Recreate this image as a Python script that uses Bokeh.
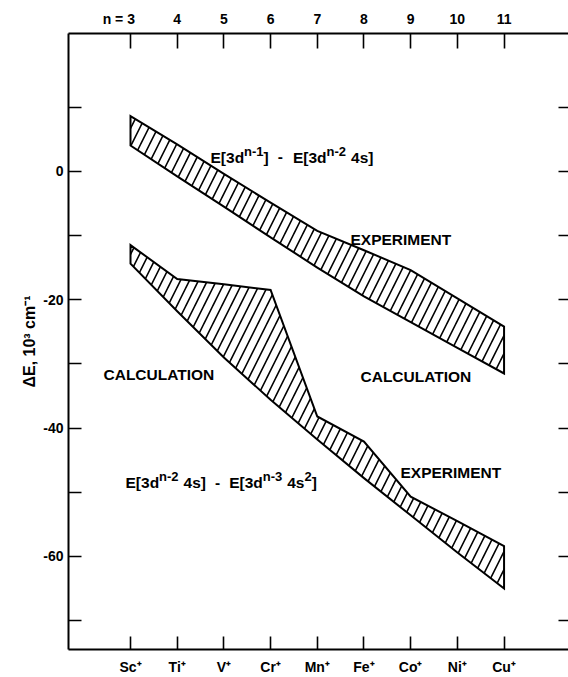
import math
from bokeh.plotting import figure
from bokeh.models import Range1d, LinearAxis, FixedTicker, Label
from bokeh.embed import file_html
from bokeh.resources import INLINE

# ---------------- data ----------------
ions = ["Sc", "Ti", "V", "Cr", "Mn", "Fe", "Co", "Ni", "Cu"]
n_values = [3, 4, 5, 6, 7, 8, 9, 10, 11]

# E[3d^(n-1)] - E[3d^(n-2) 4s]   (10^3 cm^-1)
upper_experiment = [8.6, 4.2, -0.4, -4.9, -9.3, -12.3, -15.4, -19.8, -24.2]
upper_calculation = [4.0, -0.8, -5.5, -10.3, -15.0, -19.5, -23.5, -27.5, -31.5]

# E[3d^(n-2) 4s] - E[3d^(n-3) 4s^2]
lower_experiment = [-11.5, -16.8, -17.6, -18.5, -38.2, -42.1, -50.7, -54.5, -58.4]
lower_calculation = [-14.4, -21.8, -29.0, -35.6, -41.8, -47.8, -53.6, -59.4, -65.0]

y_ticks = [-70, -60, -50, -40, -30, -20, -10, 0, 10]
y_labelled = [-60, -40, -20, 0]

# ---------------- layout ----------------
X0, X1 = 1.672, 12.38
Y0, Y1 = -74.5, 21.46
W, H = 568, 677
ML, MR, MT, MB = 68, 0, 33, 27
PX_X = (W - ML - MR) / (X1 - X0)   # px per data unit (x)
PX_Y = (H - MT - MB) / (Y1 - Y0)   # px per data unit (y)

FONT = "Liberation Sans"

p = figure(width=W, height=H, x_range=Range1d(X0, X1), y_range=Range1d(Y0, Y1),
           output_backend="svg", toolbar_location=None,
           x_axis_location=None, y_axis_location=None,
           min_border_left=ML, min_border_right=MR, min_border_top=MT, min_border_bottom=MB)
p.outline_line_color = None
p.grid.grid_line_color = None
p.background_fill_color = "white"
p.border_fill_color = "white"


def style_axis(ax, tick_in=13, standoff=5, size="14px"):
    ax.axis_line_color = "black"
    ax.axis_line_width = 2
    ax.major_tick_line_color = "black"
    ax.major_tick_line_width = 1.6
    ax.major_tick_in = tick_in
    ax.major_tick_out = 0
    ax.minor_tick_line_color = None
    ax.major_label_text_font = FONT
    ax.major_label_text_font_style = "bold"
    ax.major_label_text_font_size = size
    ax.major_label_text_color = "black"
    ax.major_label_standoff = standoff


xb = LinearAxis(ticker=FixedTicker(ticks=n_values),
                major_label_overrides={n: f"{ion}\u207a" for n, ion in zip(n_values, ions)})
style_axis(xb, tick_in=13, standoff=9)
p.add_layout(xb, "below")

top_labels = {n: str(n) for n in n_values}
top_labels[n_values[0]] = f"n = {n_values[0]}" + "\u2007" * 3
xt = LinearAxis(ticker=FixedTicker(ticks=n_values), major_label_overrides=top_labels)
style_axis(xt, tick_in=15, standoff=7)
p.add_layout(xt, "above")

yl = LinearAxis(ticker=FixedTicker(ticks=y_ticks),
                major_label_overrides={t: (str(t) if t in y_labelled else "") for t in y_ticks})
style_axis(yl, tick_in=13, standoff=5)
p.add_layout(yl, "left")

# axis carrying only the y title, bounded so that the title sits where the original one does
ytitle = LinearAxis(ticker=FixedTicker(ticks=[]), bounds=(-40, 0),
                    axis_label="\u0394E, 10\u00b3 cm\u207b\u00b9")
ytitle.axis_line_color = None
ytitle.major_tick_line_color = None
ytitle.minor_tick_line_color = None
ytitle.major_label_text_font_size = "0px"
ytitle.major_label_standoff = 0
ytitle.axis_label_text_font = FONT
ytitle.axis_label_text_font_style = "bold"
ytitle.axis_label_text_font_size = "16px"
ytitle.axis_label_text_color = "black"
ytitle.axis_label_standoff = 3
p.add_layout(ytitle, "left")

yr = LinearAxis(ticker=FixedTicker(ticks=y_ticks),
                major_label_overrides={t: "" for t in y_ticks})
style_axis(yr, tick_in=10, standoff=0, size="0px")
yr.axis_line_color = None
p.add_layout(yr, "right")

# ---------------- hatched bands ----------------
for top, bot in [(upper_experiment, upper_calculation), (lower_experiment, lower_calculation)]:
    p.patch(n_values + n_values[::-1], top + bot[::-1],
            fill_color="white", line_color="black", line_width=2, line_join="miter",
            hatch_pattern="/", hatch_scale=18, hatch_weight=1.6, hatch_color="black")

# ---------------- text ----------------
ADV = {' ': 278, '-': 333, '[': 333, ']': 333, 'E': 667, 'd': 611, 'n': 611, 's': 556,
       ',': 278, 'c': 556, 'm': 889, '\u0394': 722, '=': 584}
for ch in "0123456789":
    ADV[ch] = 556


def tw(s, size):
    return sum(ADV.get(c, 600) for c in s) * size / 1000.0


def rich(x, y, parts, main=15.5, sup=13.0, raise_px=6.0):
    """parts: list of (text, 'm'|'s') or (gap_px, 'g'). x, y in data units (baseline start)."""
    pos = 0.0
    for item, kind in parts:
        if kind == 'g':
            pos += item
            continue
        size = main if kind == 'm' else sup
        lift = raise_px if kind == 's' else 0.0
        p.add_layout(Label(x=x + pos / PX_X, y=y + lift / PX_Y, text=item,
                           text_font=FONT, text_font_style="bold",
                           text_font_size=f"{size}px", text_color="black",
                           text_align="left", text_baseline="alphabetic"))
        pos += tw(item, size)


def px2x(px):
    return 3 + (px - 130) / PX_X


def py2y(py):
    return (171 - py) / PX_Y


rich(px2x(210), py2y(157),
     [("E[3d", 'm'), ("n-1", 's'), ("]", 'm'), (9, 'g'), ("-", 'm'), (10, 'g'),
      ("E[3d", 'm'), ("n-2", 's'), (5, 'g'), ("4s]", 'm')])

rich(px2x(125), py2y(483),
     [("E[3d", 'm'), ("n-2", 's'), (5, 'g'), ("4s]", 'm'), (9, 'g'), ("-", 'm'), (9, 'g'),
      ("E[3d", 'm'), ("n-3", 's'), (5, 'g'), ("4s", 'm'), ("2", 's'), ("]", 'm')])

for txt, px, py in [("EXPERIMENT", 350, 239), ("CALCULATION", 360, 377),
                    ("CALCULATION", 103, 375), ("EXPERIMENT", 400, 473)]:
    p.add_layout(Label(x=px2x(px), y=py2y(py), text=txt,
                       text_font=FONT, text_font_style="bold", text_font_size="15.5px",
                       text_color="black", text_align="left", text_baseline="alphabetic"))

open("out.html", "w").write(file_html(p, INLINE))
